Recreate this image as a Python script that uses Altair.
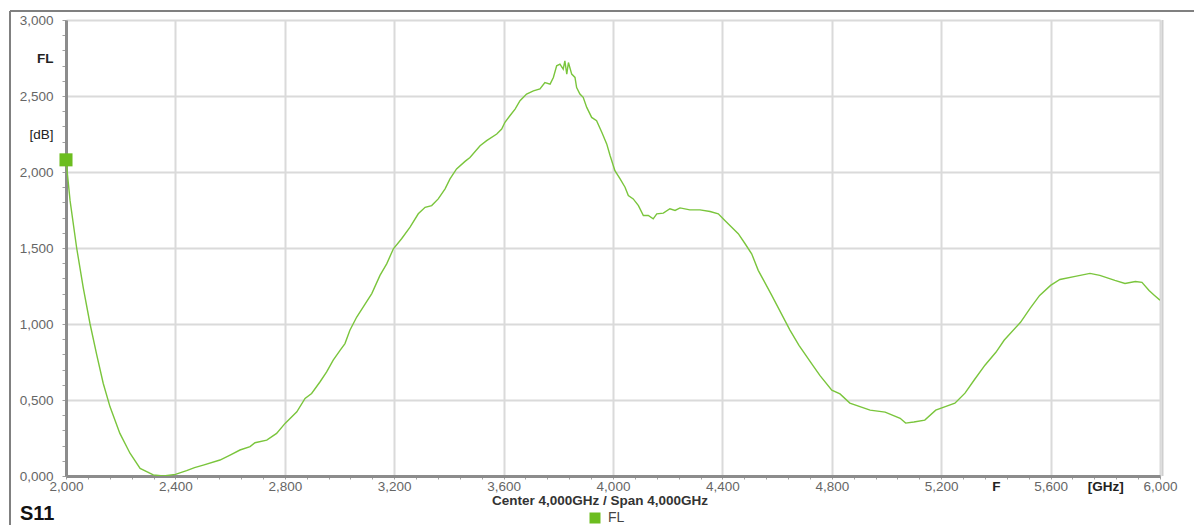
import altair as alt
import pandas as pd

# ---- data (frequency in GHz, S11 magnitude in dB) ----
freq = [2.000, 2.015, 2.039, 2.063, 2.088, 2.112, 2.136, 2.161, 2.197, 2.234,
        2.271, 2.319, 2.356, 2.400, 2.441, 2.470, 2.502, 2.563, 2.600, 2.636,
        2.673, 2.691, 2.734, 2.770, 2.801, 2.844, 2.874, 2.898, 2.929, 2.953,
        2.977, 3.002, 3.020, 3.038, 3.063, 3.087, 3.118, 3.148, 3.173, 3.197,
        3.227, 3.258, 3.288, 3.313, 3.337, 3.361, 3.386, 3.404, 3.428, 3.459,
        3.477, 3.514, 3.538, 3.575, 3.593, 3.605, 3.623, 3.642, 3.660, 3.684,
        3.709, 3.733, 3.751, 3.770, 3.782, 3.794, 3.806, 3.818, 3.824, 3.831,
        3.837, 3.849, 3.861, 3.867, 3.879, 3.891, 3.904, 3.922, 3.940, 3.959,
        3.977, 3.989, 4.007, 4.026, 4.044, 4.056, 4.074, 4.093, 4.111, 4.129,
        4.147, 4.160, 4.184, 4.208, 4.227, 4.245, 4.281, 4.318, 4.355, 4.385,
        4.409, 4.434, 4.458, 4.483, 4.507, 4.531, 4.580, 4.647, 4.680, 4.730,
        4.757, 4.800, 4.830, 4.866, 4.940, 4.995, 5.050, 5.070, 5.100, 5.140,
        5.180, 5.210, 5.250, 5.287, 5.320, 5.360, 5.400, 5.430, 5.490, 5.525,
        5.560, 5.600, 5.634, 5.690, 5.744, 5.780, 5.835, 5.872, 5.910, 5.934,
        5.960, 5.980, 6.000]
s11 = [2.08, 1.81, 1.50, 1.24, 1.00, 0.80, 0.61, 0.455, 0.28, 0.15,
       0.05, 0.007, 0.0, 0.011, 0.035, 0.055, 0.072, 0.105, 0.138, 0.171,
       0.193, 0.219, 0.236, 0.28, 0.346, 0.422, 0.51, 0.543, 0.62, 0.685,
       0.762, 0.827, 0.871, 0.959, 1.046, 1.112, 1.20, 1.32, 1.397, 1.495,
       1.561, 1.637, 1.725, 1.768, 1.779, 1.823, 1.889, 1.955, 2.02, 2.07,
       2.095, 2.173, 2.206, 2.25, 2.283, 2.327, 2.37, 2.414, 2.469, 2.513,
       2.534, 2.546, 2.589, 2.578, 2.622, 2.699, 2.71, 2.677, 2.731, 2.644,
       2.72, 2.644, 2.622, 2.556, 2.513, 2.491, 2.425, 2.359, 2.337, 2.261,
       2.185, 2.11, 2.009, 1.955, 1.90, 1.845, 1.823, 1.779, 1.714, 1.714,
       1.692, 1.725, 1.729, 1.758, 1.747, 1.764, 1.751, 1.751, 1.74, 1.725,
       1.681, 1.637, 1.594, 1.528, 1.462, 1.353, 1.19, 0.96, 0.86, 0.73,
       0.66, 0.565, 0.54, 0.48, 0.433, 0.42, 0.38, 0.348, 0.355, 0.368,
       0.433, 0.453, 0.479, 0.545, 0.63, 0.729, 0.814, 0.893, 1.011, 1.103,
       1.188, 1.254, 1.293, 1.313, 1.333, 1.32, 1.287, 1.267, 1.28, 1.274,
       1.221, 1.188, 1.156]

marker_freq = [2.0]
marker_val = [2.08]

series_name = ["FL"]

x_ticks = [round(2 + 0.08 * i, 2) for i in range(51)]
x_text_ticks = [5.4, 5.8]          # labelled "F" and "[GHz]"
y_ticks = [round(0.1 * i, 1) for i in range(31)]
y_text_ticks = [2.25, 2.75]        # labelled "[dB]" and "FL"

center_text = ["Center 4,000GHz / Span 4,000GHz"]
corner_text = ["S11"]

# ---- styling ----
FONT = "Liberation Sans"
LINE = "#7ac53c"
SQ = "#6cbd1f"
GRID = "#dadada"
AXIS = "#8c8c8c"
W, H = 1094, 456

df = pd.DataFrame({"f": freq, "v": s11, "series": series_name[0]})
mk = pd.DataFrame({"f": marker_freq, "v": marker_val})
one = pd.DataFrame({"a": [0]})

x_major = "abs((datum.value-2)/0.4 - round((datum.value-2)/0.4)) < 0.001"
x_special = "(datum.value == 5.4 || datum.value == 5.8)"
x_axis = alt.Axis(
    values=x_ticks + x_text_ticks,
    tickCount=1000,
    title=None,
    labelExpr=("datum.value == 5.4 ? 'F' : datum.value == 5.8 ? '[GHz]' : ("
               + x_major + " ? replace(format(datum.value, '.3f'), '.', ',') : '')"),
    labelFont=FONT, labelFontSize=13.5,
    labelColor={"condition": {"test": x_special, "value": "#222222"}, "value": "#666666"},
    labelFontWeight={"condition": {"test": x_special, "value": "bold"}, "value": "normal"},
    labelFlush=False, labelOverlap=False, labelPadding=0,
    tickSize=3, tickColor="#a0a0a0", tickWidth=1,
    tickOpacity={"condition": {"test": x_special, "value": 0}, "value": 1},
    grid=True, gridColor=GRID, gridWidth=2,
    gridOpacity={"condition": {"test": x_major, "value": 1}, "value": 0},
    domainColor=AXIS, domainWidth=3,
)

y_major = "abs(datum.value*2 - round(datum.value*2)) < 0.001"
y_special = "(datum.value == 2.25 || datum.value == 2.75)"
y_axis = alt.Axis(
    values=y_ticks + y_text_ticks,
    tickCount=1000,
    title=None,
    labelExpr=("datum.value == 2.75 ? 'FL' : datum.value == 2.25 ? '[dB]' : ("
               + y_major + " ? replace(format(datum.value, '.3f'), '.', ',') : '')"),
    labelFont=FONT, labelFontSize=13.5,
    labelColor={"condition": {"test": y_special, "value": "#222222"}, "value": "#666666"},
    labelFontWeight={"condition": {"test": "datum.value == 2.75", "value": "bold"}, "value": "normal"},
    labelFlush=False, labelOverlap=False, labelPadding=9,
    tickSize=4, tickColor="#a0a0a0", tickWidth=1,
    tickOpacity={"condition": {"test": y_special, "value": 0}, "value": 1},
    grid=True, gridColor=GRID, gridWidth=2,
    gridOpacity={"condition": {"test": y_major, "value": 1}, "value": 0},
    domainColor=AXIS, domainWidth=3,
)

xs = alt.Scale(domain=[2, 6], nice=False, zero=False)
ys = alt.Scale(domain=[0, 3], nice=False, zero=False)

line = alt.Chart(df).mark_line(strokeWidth=1.4, clip=True).encode(
    x=alt.X("f:Q", scale=xs, axis=x_axis),
    y=alt.Y("v:Q", scale=ys, axis=y_axis),
    color=alt.Color(
        "series:N",
        scale=alt.Scale(domain=series_name, range=[LINE]),
        legend=alt.Legend(
            title=None, orient="none", legendX=522, legendY=491,
            symbolType="square", symbolSize=121, symbolFillColor=SQ,
            symbolStrokeColor=SQ, symbolStrokeWidth=0, symbolOpacity=1,
            labelFont=FONT, labelFontSize=14, labelColor="#444444",
            labelOffset=6, padding=0,
        ),
    ),
)

marker = alt.Chart(mk).mark_square(size=170, color=SQ, opacity=1).encode(
    x=alt.X("f:Q", scale=xs), y=alt.Y("v:Q", scale=ys)
)

# outer frame and plot-frame shadow
frame_left = alt.Chart(one).mark_rule(color="#808080", strokeWidth=2).encode(
    x=alt.value(-56), y=alt.value(-9), y2=alt.value(510))
frame_top = alt.Chart(one).mark_rule(color="#808080", strokeWidth=2).encode(
    x=alt.value(-56), x2=alt.value(1150), y=alt.value(-9))
shadow_right = alt.Chart(one).mark_rule(color="#cfcfcf", strokeWidth=2).encode(
    x=alt.value(W + 2.5), y=alt.value(0), y2=alt.value(H))

center = alt.Chart(pd.DataFrame({"t": center_text})).mark_text(
    font=FONT, fontSize=13.5, fontWeight="bold", color="#333333",
    align="center", baseline="middle").encode(
    x=alt.value(534), y=alt.value(481), text="t:N")

corner = alt.Chart(pd.DataFrame({"t": corner_text})).mark_text(
    font=FONT, fontSize=20, fontWeight="bold", color="#111111",
    align="left", baseline="alphabetic").encode(
    x=alt.value(-46), y=alt.value(500), text="t:N")

chart = alt.layer(
    line, marker, frame_left, frame_top, shadow_right, center, corner
).properties(
    width=W, height=H,
    autosize=alt.AutoSizeParams(type="none"),
    padding={"left": 58, "top": 12, "right": 34, "bottom": 49},
).configure_view(
    stroke="#8c8c8c", strokeWidth=2
).configure(
    font=FONT, background="white"
)

chart.save("out.html", embed_options={"renderer": "svg", "actions": False})
